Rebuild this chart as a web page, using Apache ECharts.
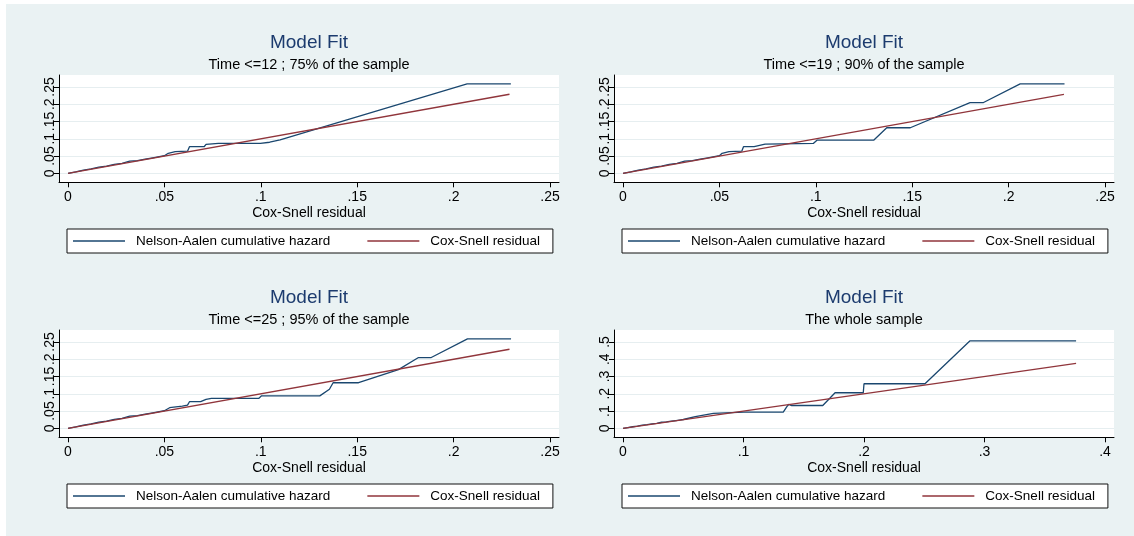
<!DOCTYPE html>
<html>
<head>
<meta charset="utf-8">
<script src="https://cdn.jsdelivr.net/npm/echarts@6/dist/echarts.min.js"></script>
<style>
html,body{margin:0;padding:0;background:#fff;}
#chart{position:absolute;left:6px;top:4px;width:1128px;height:532px;}
</style>
</head>
<body>
<div id="chart"></div>
<script>
// ---------- data ----------
const panelTitles = ['Model Fit', 'Model Fit', 'Model Fit', 'Model Fit'];
const panelSubtitles = ['Time <=12 ; 75% of the sample', 'Time <=19 ; 90% of the sample', 'Time <=25 ; 95% of the sample', 'The whole sample'];
const xAxisTitle = 'Cox-Snell residual';
const seriesNames = ['Nelson-Aalen cumulative hazard', 'Cox-Snell residual'];

const xTicksA = [0, 0.05, 0.1, 0.15, 0.2, 0.25];
const yTicksA = [0, 0.05, 0.1, 0.15, 0.2, 0.25];
const xTicksB = [0, 0.1, 0.2, 0.3, 0.4];
const yTicksB = [0, 0.1, 0.2, 0.3, 0.4, 0.5];

// common early part of Nelson-Aalen estimates (hugging the diagonal)
const naEarly = [[0,0],[0.004,0.004],[0.008,0.009],[0.012,0.013],[0.016,0.018],[0.020,0.021],[0.024,0.026],[0.028,0.029],[0.032,0.035],[0.036,0.037],[0.040,0.041],[0.044,0.045],[0.048,0.049],[0.050,0.051]];

const na12 = [[0.0509,0.0500],[0.0520,0.0580],[0.0556,0.0625],[0.0620,0.0640],[0.0630,0.0770],[0.0706,0.0770],[0.0716,0.0837],[0.0780,0.0865],[0.0998,0.0865],[0.1046,0.0900],[0.1100,0.0970],[0.2070,0.2590],[0.2297,0.2590]];
const na19 = [[0.0514,0.0580],[0.0550,0.0625],[0.0616,0.0640],[0.0625,0.0770],[0.0680,0.0770],[0.0690,0.0820],[0.0737,0.0846],[0.0746,0.0865],[0.0987,0.0865],[0.1006,0.0960],[0.1300,0.0960],[0.1368,0.1320],[0.1490,0.1320],[0.1800,0.2050],[0.1870,0.2050],[0.2060,0.2590],[0.2290,0.2590]];
const na25 = [[0.0509,0.0530],[0.0527,0.0596],[0.0593,0.0640],[0.0620,0.0670],[0.0630,0.0770],[0.0688,0.0770],[0.0716,0.0837],[0.0744,0.0865],[0.0989,0.0865],[0.1004,0.0940],[0.1306,0.0940],[0.1356,0.1130],[0.1375,0.1320],[0.1507,0.1320],[0.1714,0.1700],[0.1818,0.2050],[0.1884,0.2050],[0.2072,0.2590],[0.2298,0.2590]];
const naAll = [[0.0600,0.0680],[0.0750,0.0860],[0.1003,0.0940],[0.1330,0.0940],[0.1360,0.1260],[0.1375,0.1380],[0.1400,0.1320],[0.1658,0.1320],[0.1760,0.2060],[0.1994,0.2060],[0.2000,0.2580],[0.2506,0.2580],[0.2878,0.5060],[0.3760,0.5060]];

const cs12 = [[0,0],[0.2290,0.2290]];
const cs19 = [[0,0],[0.2287,0.2287]];
const cs25 = [[0,0],[0.2290,0.2290]];
const csAll = [[0,0],[0.3760,0.3760]];

// ---------- layout ----------
const FONT = '"Liberation Sans", Arial, Helvetica, sans-serif';
const BLUE = '#1a476f';
const RED = '#90353b';
const lefts = [53, 608, 53, 608];
const tops = [71, 71, 326, 326];
const PW = 500, PH = 107.3;
function xRange(maxTick){ const ppu = 482 / maxTick; return [-9 / ppu, (PW - 9) / ppu]; }
function yRange(maxTick){ const ppu = 86.3 / maxTick; return [-(PH - 98.3) / ppu, maxTick + 12 / ppu]; }

const naData = [naEarly.concat(na12), naEarly.concat(na19), naEarly.concat(na25), naEarly.concat(naAll)];
const csData = [cs12, cs19, cs25, csAll];
const xTickSets = [xTicksA, xTicksA, xTicksA, xTicksB];
const yTickSets = [yTicksA, yTicksA, yTicksA, yTicksB];

function fmt(v){ if (Math.abs(v) < 1e-12) return '0'; return String(+v.toFixed(4)).replace(/^0\./, '.'); }

const grids = [], xAxes = [], yAxes = [], series = [], titles = [], legends = [];
for (let i = 0; i < 4; i++) {
  const L = lefts[i], T = tops[i];
  grids.push({left: L, top: T, width: PW, height: PH, show: true, backgroundColor: '#ffffff', borderWidth: 0, containLabel: false});
  const xr = xRange(xTickSets[i][xTickSets[i].length - 1]);
  const yr = yRange(yTickSets[i][yTickSets[i].length - 1]);
  xAxes.push({
    type: 'value', gridIndex: i, min: xr[0], max: xr[1],
    axisLine: {show: true, onZero: false, lineStyle: {color: '#000', width: 1}},
    axisTick: {show: true, customValues: xTickSets[i], length: 5, lineStyle: {color: '#000', width: 1}},
    axisLabel: {customValues: xTickSets[i], formatter: fmt, margin: 8, color: '#000', fontSize: 14, fontFamily: FONT},
    splitLine: {show: false},
    name: xAxisTitle, nameLocation: 'middle', nameGap: 24,
    nameTextStyle: {color: '#000', fontSize: 14, fontFamily: FONT}
  });
  yAxes.push({
    type: 'value', gridIndex: i, min: yr[0], max: yr[1],
    axisLine: {show: true, onZero: false, lineStyle: {color: '#000', width: 1}},
    axisTick: {show: true, customValues: yTickSets[i], length: 5, lineStyle: {color: '#000', width: 1}},
    axisLabel: {customValues: yTickSets[i], formatter: fmt, rotate: 90, margin: 2, color: '#000', fontSize: 14, fontFamily: FONT},
    splitLine: {show: true, lineStyle: {color: '#e6eef0', width: 1}}
  });
  series.push({
    name: seriesNames[0], type: 'line', xAxisIndex: i, yAxisIndex: i, data: naData[i],
    symbol: 'none', showSymbol: false, lineStyle: {color: BLUE, width: 1.3}, itemStyle: {color: BLUE}
  });
  series.push({
    name: seriesNames[1], type: 'line', xAxisIndex: i, yAxisIndex: i, data: csData[i],
    symbol: 'none', showSymbol: false, lineStyle: {color: RED, width: 1.3}, itemStyle: {color: RED}
  });
  const cx = L + PW / 2;
  titles.push({text: panelTitles[i], left: cx, top: T - 32, textAlign: 'center', textVerticalAlign: 'middle', padding: 0,
    textStyle: {fontSize: 19, fontWeight: 'normal', color: '#1c3b6e', fontFamily: FONT}});
  titles.push({text: panelSubtitles[i], left: cx, top: T - 10, textAlign: 'center', textVerticalAlign: 'middle', padding: 0,
    textStyle: {fontSize: 14.5, fontWeight: 'normal', color: '#000', fontFamily: FONT}});
  legends.push({
    data: seriesNames, left: L + 8, top: T + 154, orient: 'horizontal',
    icon: 'rect', itemWidth: 52, itemHeight: 1.6,
    padding: [5, 13, 5, 6], itemGap: 37,
    borderColor: '#111', borderWidth: 1, backgroundColor: '#fff', borderRadius: 0,
    selectedMode: false,
    textStyle: {fontSize: 13.5, color: '#000', fontFamily: FONT, padding: [0, 0, 0, 6]}
  });
}

const chart = echarts.init(document.getElementById('chart'), null, {renderer: 'canvas'});
chart.setOption({
  backgroundColor: '#eaf2f3',
  animation: false,
  textStyle: {fontFamily: FONT},
  title: titles,
  legend: legends,
  grid: grids,
  xAxis: xAxes,
  yAxis: yAxes,
  series: series
});
</script>
</body>
</html>
